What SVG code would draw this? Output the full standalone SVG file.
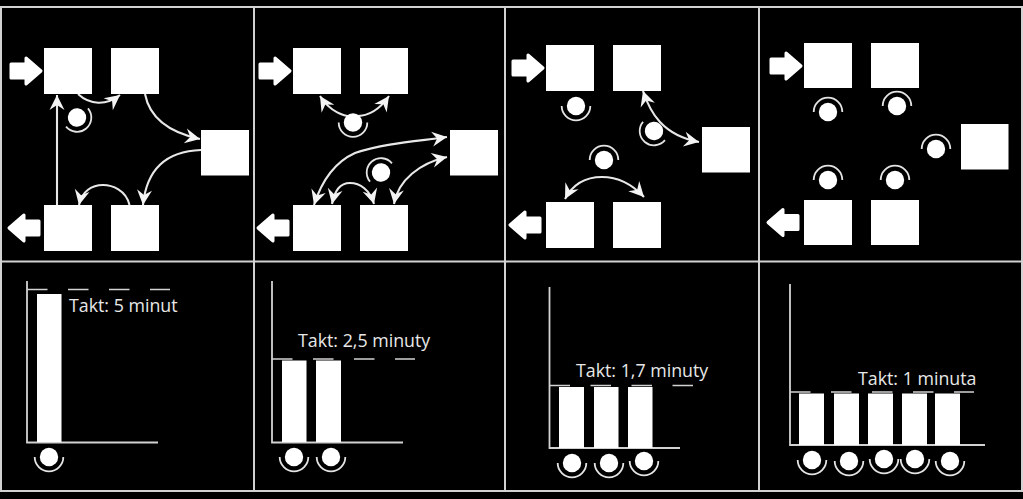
<svg xmlns="http://www.w3.org/2000/svg" width="1023" height="499" viewBox="0 0 1023 499">
<style>
.frame{stroke:#d2d2d2;stroke-width:2;fill:none}
.box{fill:#fff}
.blk{fill:#fff;stroke:#fff;stroke-width:3;stroke-linejoin:round}
.c{fill:none;stroke:#e8e8e8;stroke-width:2.1}
.a{marker-end:url(#h)}
.b{marker-start:url(#h);marker-end:url(#h)}
.w{fill:#fff}
.arc{fill:none;stroke:#e4e4e4;stroke-width:1.8}
.ax{stroke:#d2d2d2;stroke-width:1.8;fill:none}
.d{stroke:#d2d2d2;stroke-width:1.7;fill:none;stroke-dasharray:20.5 20.5}
text{font-family:"Open Sans","Liberation Sans",sans-serif;font-size:17.8px;fill:#e8e8e8}
</style>
<defs>
<marker id="h" markerUnits="userSpaceOnUse" markerWidth="17" markerHeight="18" viewBox="-16 -9 17 18" refX="0" refY="0" orient="auto-start-reverse"><path d="M0,0 L-15,-7.500 L-10,0 L-15,7.500 Z" fill="#f4f4f4"/></marker>
<path id="in" d="M-32,-7 H-17 V-13 L-2,0 L-17,13 V7 H-32 Z"/>
<path id="out" d="M32,-7 H17 V-13 L2,0 L17,13 V7 H32 Z"/>
<g id="wk"><circle r="9.200" class="w"/><path class="arc" d="M-14.300,0 A14.300,14.300 0 0 0 14.300,0"/></g>
</defs>
<rect width="1023" height="499" fill="#000"/>
<g id="frame">
<path class="frame" d="M0,7 H1023 M0,261.500 H1023 M0,491 H1023 M1,7 V491 M254,7 V491 M505,7 V491 M759,7 V491 M1022,7 V491"/>
</g>
<g id="connectors">
<path class="c a" d="M78,94 C90,105 106,106 120,95"/>
<path class="c a" d="M145,94 C150,120 172,133 200,139"/>
<path class="c a" d="M201,150 C170,151 147,165 143,205"/>
<path class="c a" d="M129.500,205 C126,190 112,185 103,185 C92,185 82,191 79,205"/>
<path class="c a" d="M57,205 V95"/>
<path class="c b" d="M320,96 C330,112 345,117 353,116 C365,117 378,112 389,96"/>
<path class="c b" d="M314,205 C322,180 335,162 355,153 C385,143 420,141 447,137"/>
<path class="c b" d="M332,204 C335,190 340,183 350,183 C360,183 370,190 374,204"/>
<path class="c b" d="M394,204 C398,180 420,163 447,157"/>
<path class="c b" d="M643,91 C650,112 662,135 699,142"/>
<path class="c b" d="M565,199 C575,180 590,177 602,177 C615,177 630,182 644,197"/>
</g>
<g id="panel-1">
<g id="p1-box1"><rect class="box" x="44" y="48" width="48" height="46"/></g>
<g id="p1-box2"><rect class="box" x="111" y="48" width="48" height="46"/></g>
<g id="p1-box3"><rect class="box" x="201" y="130" width="48" height="45.500"/></g>
<g id="p1-box4"><rect class="box" x="44" y="205" width="48" height="46"/></g>
<g id="p1-box5"><rect class="box" x="111" y="205" width="48" height="46"/></g>
<g id="p1-in"><use href="#in" class="blk" x="43" y="71"/></g>
<g id="p1-out"><use href="#out" class="blk" x="7" y="228"/></g>
<g id="p1-w1"><use href="#wk" transform="translate(77,117.500) rotate(-40)"/></g>
</g>
<g id="panel-2">
<g id="p2-box1"><rect class="box" x="293" y="48" width="48" height="46"/></g>
<g id="p2-box2"><rect class="box" x="360" y="48" width="48" height="46"/></g>
<g id="p2-box3"><rect class="box" x="450" y="130" width="48" height="45.500"/></g>
<g id="p2-box4"><rect class="box" x="293" y="205" width="48" height="46"/></g>
<g id="p2-box5"><rect class="box" x="360" y="205" width="48" height="46"/></g>
<g id="p2-in"><use href="#in" class="blk" x="292" y="71"/></g>
<g id="p2-out"><use href="#out" class="blk" x="256" y="228"/></g>
<g id="p2-w1"><use href="#wk" transform="translate(353,122.500)"/></g>
<g id="p2-w2"><use href="#wk" transform="translate(381,172.500) rotate(140)"/></g>
</g>
<g id="panel-3">
<g id="p3-box1"><rect class="box" x="546" y="45" width="48" height="46"/></g>
<g id="p3-box2"><rect class="box" x="613" y="45" width="48" height="46"/></g>
<g id="p3-box3"><rect class="box" x="702" y="127" width="48" height="45.500"/></g>
<g id="p3-box4"><rect class="box" x="546" y="202" width="48" height="46"/></g>
<g id="p3-box5"><rect class="box" x="613" y="202" width="48" height="46"/></g>
<g id="p3-in"><use href="#in" class="blk" x="545" y="68"/></g>
<g id="p3-out"><use href="#out" class="blk" x="508" y="225"/></g>
<g id="p3-w1"><use href="#wk" transform="translate(576,106)"/></g>
<g id="p3-w2"><use href="#wk" transform="translate(654,131) rotate(40)"/></g>
<g id="p3-w3"><use href="#wk" transform="translate(604,160) rotate(180)"/></g>
</g>
<g id="panel-4">
<g id="p4-box1"><rect class="box" x="804" y="43" width="48" height="45"/></g>
<g id="p4-box2"><rect class="box" x="871" y="43" width="48" height="45"/></g>
<g id="p4-box3"><rect class="box" x="961" y="124" width="47.500" height="45.500"/></g>
<g id="p4-box4"><rect class="box" x="804" y="200" width="48" height="45"/></g>
<g id="p4-box5"><rect class="box" x="871" y="200" width="48" height="45"/></g>
<g id="p4-in"><use href="#in" class="blk" x="803" y="66"/></g>
<g id="p4-out"><use href="#out" class="blk" x="766" y="222.500"/></g>
<g id="p4-w1"><use href="#wk" transform="translate(828,112) rotate(180)"/></g>
<g id="p4-w2"><use href="#wk" transform="translate(897,106) rotate(180)"/></g>
<g id="p4-w3"><use href="#wk" transform="translate(936,149) rotate(180)"/></g>
<g id="p4-w4"><use href="#wk" transform="translate(828,180) rotate(180)"/></g>
<g id="p4-w5"><use href="#wk" transform="translate(895,180) rotate(180)"/></g>
</g>
<g id="chart-1">
<path class="ax" d="M27,281 V442.500 H158"/>
<path class="d" d="M27,289.500 H170"/>
<rect class="box" x="37" y="294" width="24.500" height="148"/>
<use href="#wk" transform="translate(49,457)"/>
<text x="69" y="312">Takt: 5 minut</text>
</g>
<g id="chart-2">
<path class="ax" d="M272,281 V442.500 H403"/>
<path class="d" d="M272,359 H415"/>
<rect class="box" x="282" y="360.500" width="24.500" height="81.500"/>
<rect class="box" x="316" y="360.500" width="25" height="81.500"/>
<use href="#wk" transform="translate(294,457)"/>
<use href="#wk" transform="translate(331,457)"/>
<text x="298" y="347">Takt: 2,5 minuty</text>
</g>
<g id="chart-3">
<path class="ax" d="M549.500,287 V448 H680"/>
<path class="d" d="M549.500,385.500 H693"/>
<rect class="box" x="559" y="387" width="25" height="61"/>
<rect class="box" x="594" y="387" width="24.500" height="61"/>
<rect class="box" x="628" y="387" width="24.500" height="61"/>
<use href="#wk" transform="translate(572,463)"/>
<use href="#wk" transform="translate(609,463)"/>
<use href="#wk" transform="translate(644,461)"/>
<text x="576" y="377">Takt: 1,7 minuty</text>
</g>
<g id="chart-4">
<path class="ax" d="M790,284 V445 H985"/>
<path class="d" d="M790,392 H974"/>
<rect class="box" x="799" y="393.500" width="25" height="51.500"/>
<rect class="box" x="834" y="393.500" width="25" height="51.500"/>
<rect class="box" x="868" y="393.500" width="25" height="51.500"/>
<rect class="box" x="902" y="393.500" width="25" height="51.500"/>
<rect class="box" x="935" y="393.500" width="25" height="51.500"/>
<use href="#wk" transform="translate(812,460)"/>
<use href="#wk" transform="translate(849,461)"/>
<use href="#wk" transform="translate(884,459)"/>
<use href="#wk" transform="translate(915,459)"/>
<use href="#wk" transform="translate(950,461)"/>
<text x="858" y="385">Takt: 1 minuta</text>
</g>
</svg>
